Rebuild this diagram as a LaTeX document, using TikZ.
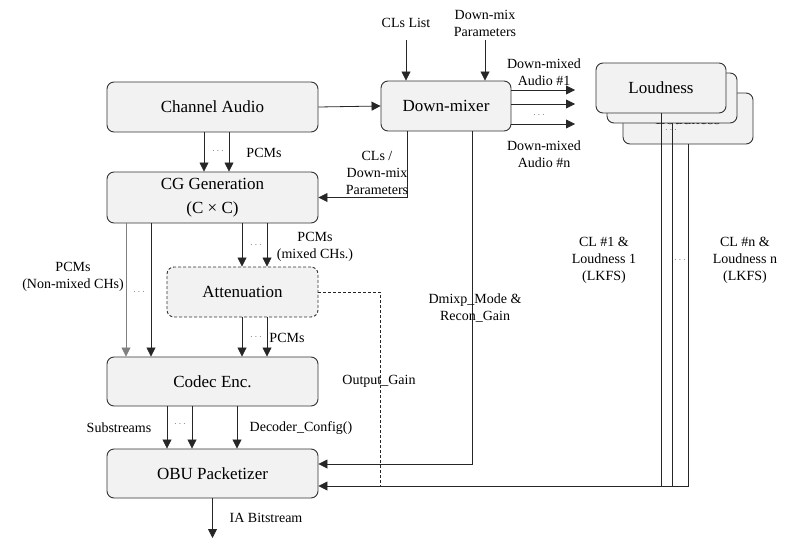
\documentclass[tikz,border=0pt]{standalone}
\usepackage{fontspec}
\setmainfont{Liberation Serif}
\usetikzlibrary{arrows.meta,positioning,calc}
\tikzset{
  iamf/block/.style={draw=black!80, fill=black!5, rounded corners=7pt, line width=0.9pt, minimum width=211pt, minimum height=50pt, inner sep=0pt, align=center, font=\fontsize{17}{24}\selectfont},
  iamf/optblock/.style={iamf/block, dash pattern=on 3pt off 2pt},
  iamf/line/.style={draw=black!85, line width=0.8pt},
  iamf/arr/.style={iamf/line, -{Triangle[length=9pt,width=9pt]}},
  iamf/dash/.style={iamf/line, dash pattern=on 3pt off 2pt},
  iamf/lbl/.style={font=\fontsize{14}{17}\selectfont, align=center, inner sep=0pt},
  iamf/dots/.style={font=\fontsize{10}{10}\selectfont, text=black!55, inner sep=0pt}
}

\begin{document}
\begin{tikzpicture}[x=1pt, y=-1pt]
  \useasboundingbox (0,0) rectangle (800,551);

  % Processing blocks
  \node[iamf/block] (chan) at (212.5,107) {Channel Audio};
  \node[iamf/block, minimum width=130pt] (dmix) at (446,106) {Down-mixer};
  \node[iamf/block, minimum height=51pt] (cg) at (212.5,197.5) {CG Generation\\(C × C)};
  \node[iamf/optblock, minimum width=151pt] (att) at (242.5,292) {Attenuation};
  \node[iamf/block, minimum height=49pt] (enc) at (212.5,381.5) {Codec Enc.};
  \node[iamf/block, minimum height=49pt] (obu) at (212.5,473.5) {OBU Packetizer};

  % Stacked loudness blocks
  \node[iamf/block, minimum width=130pt, minimum height=51pt] (loud3) at (688,118.5) {Loudness};
  \node[iamf/dots] at (671,130) {$\cdots$};
  \node[iamf/block, minimum width=130pt] (loud2) at (672,98) {Loudness};
  \node[iamf/block, minimum width=130pt] (loud1) at (661,88) {Loudness};

  % Down-mixer inputs and outputs
  \coordinate (clsin) at (406,40);
  \coordinate (dmpin) at (485,40);
  \coordinate (mixout) at (575,106);
  \node[iamf/lbl] (clslist) at (406,23) {CLs List};
  \node[iamf/lbl] (dmpar) at (485,23) {Down-mix\\Parameters};
  \draw[iamf/arr] (clsin) -- (clsin |- dmix.north);
  \draw[iamf/arr] (dmpin) -- (dmpin |- dmix.north);
  \draw[iamf/arr] (chan.east) -- (dmix.west);
  \foreach \dy in {-16,-2,18}
    \draw[iamf/arr] ($(dmix.east)+(0,\dy)$) -- ($(mixout)+(0,\dy)$);
  \node[iamf/dots] at (539,115) {$\cdots$};
  \node[iamf/lbl] (mix1) at (544,72) {Down-mixed\\Audio \#1};
  \node[iamf/lbl] (mixn) at (544,154) {Down-mixed\\Audio \#n};

  % Down-mixer side information
  \draw[iamf/arr] ($(dmix.south)+(-39,0)$) |- (cg.east);
  \node[iamf/lbl] (clspar) at (377,173) {CLs /\\Down-mix\\Parameters};
  \draw[iamf/arr] ($(dmix.south)+(26,0)$) |- ($(obu.east)+(0,-9.5)$);
  \node[iamf/lbl] (dmixp) at (475,308.5) {Dmixp\_Mode \&\\Recon\_Gain};

  % Channel audio to CG generation
  \foreach \dx in {-8.5,16.5}
    \draw[iamf/arr] ($(chan.south)+(\dx,0)$) -- ($(cg.north)+(\dx,0)$);
  \node[iamf/dots] at (218,151) {$\cdots$};
  \node[iamf/lbl] at (264,153) {PCMs};

  % CG generation to attenuation and codec
  \foreach \dx in {29.5,54.5}
    \draw[iamf/arr] ($(cg.south)+(\dx,0)$) -- ($(att.north)+({\dx-30},0)$);
  \node[iamf/dots] at (256,245) {$\cdots$};
  \node[iamf/lbl] at (315,246.5) {PCMs\\(mixed CHs.)};
  \draw[iamf/arr, draw=black!50] ($(cg.south)+(-86.5,0)$) -- ($(enc.north)+(-86.5,0)$);
  \draw[iamf/arr] ($(cg.south)+(-61.5,0)$) -- ($(enc.north)+(-61.5,0)$);
  \node[iamf/dots] at (139,292) {$\cdots$};
  \node[iamf/lbl] at (73,276.5) {PCMs\\(Non-mixed CHs)};

  % Attenuation to codec
  \foreach \dx in {-0.5,24.5}
    \draw[iamf/arr] ($(att.south)+(\dx,0)$) -- ($(enc.north)+({\dx+30},0)$);
  \node[iamf/dots] at (256,337) {$\cdots$};
  \node[iamf/lbl] at (287,338) {PCMs};

  % Output gain
  \coordinate (ogain) at (380,486);
  \draw[iamf/dash] (att.east) -| (ogain);
  \node[iamf/lbl] at (379,381) {Output\_Gain};

  % Codec to packetizer
  \foreach \dx in {-45.5,-20.5,24.5}
    \draw[iamf/arr] ($(enc.south)+(\dx,0)$) -- ($(obu.north)+(\dx,0)$);
  \node[iamf/dots] at (180,424) {$\cdots$};
  \node[iamf/lbl] at (119,428) {Substreams};
  \node[iamf/lbl] at (301,428) {Decoder\_Config()};

  % Loudness information
  \coordinate (lkin) at ($(obu.east)+(0,12.5)$);
  \draw[iamf/line] (loud1.south) -- (loud1.south |- lkin);
  \draw[iamf/line] (loud2.south) -- (loud2.south |- lkin);
  \draw[iamf/arr] (loud3.south) |- (lkin);
  \node[iamf/dots] at (680,260) {$\cdots$};
  \node[iamf/lbl] at (604,260) {CL \#1 \&\\Loudness 1\\(LKFS)};
  \node[iamf/lbl] at (745,260) {CL \#n \&\\Loudness n\\(LKFS)};

  % Output bitstream
  \coordinate (iaout) at (212.5,538);
  \draw[iamf/arr] (obu.south) -- (iaout);
  \node[iamf/lbl] at (266,518) {IA Bitstream};
\end{tikzpicture}
\end{document}
